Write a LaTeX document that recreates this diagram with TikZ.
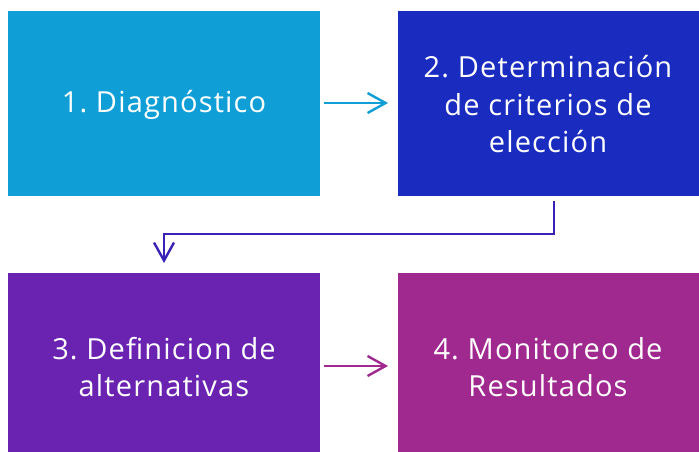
\documentclass[tikz,border=0pt]{standalone}
\usepackage{fontspec}
\setmainfont{Open Sans}[LetterSpace=4]
\frenchspacing
\usetikzlibrary{arrows.meta}
\definecolor{cA}{HTML}{0F9FD6}
\definecolor{cB}{HTML}{1A2CC0}
\definecolor{cC}{HTML}{6A22B0}
\definecolor{cD}{HTML}{A0298F}
\definecolor{aB}{HTML}{3822B8}
\tikzset{
  stepbox/.style={inner sep=0pt, outer sep=0pt, text=white, align=center,
    font=\fontsize{29}{37.5}\selectfont},
  conn/.style={line width=2.4pt, -{Straight Barb[length=18pt,width=20pt,line width=2.4pt]}}
}
\begin{document}
\begin{tikzpicture}[x=1pt,y=-1pt]
\useasboundingbox (0,0) rectangle (699,452);
\fill[white] (0,0) rectangle (699,452);
\fill[cA] (8,11) rectangle (320,196);
\fill[cB] (398,11) rectangle (699,196);
\fill[cC] (8,273) rectangle (320,452);
\fill[cD] (398,273) rectangle (699,452);
\node[stepbox] (n1) at (164,105) {1. Diagnóstico};
\node[stepbox] (n2) at (548,104.5) {2. Determinación\\de criterios de\\elección};
\node[stepbox] (n3) at (164,367) {3. Definicion de\\alternativas};
\node[stepbox] (n4) at (548,367) {4. Monitoreo de\\Resultados};
\coordinate (a1s) at (324,103);
\coordinate (a1e) at (388,103);
\coordinate (a2s) at (554,201);
\coordinate (a2m) at (554,234);
\coordinate (a2n) at (164,234);
\coordinate (a2e) at (164,263);
\coordinate (a3s) at (324,366);
\coordinate (a3e) at (388,366);
\draw[conn, cA] (a1s) -- (a1e);
\draw[conn, aB] (a2s) -- (a2m) -- (a2n) -- (a2e);
\draw[conn, cD] (a3s) -- (a3e);
\end{tikzpicture}
\end{document}
